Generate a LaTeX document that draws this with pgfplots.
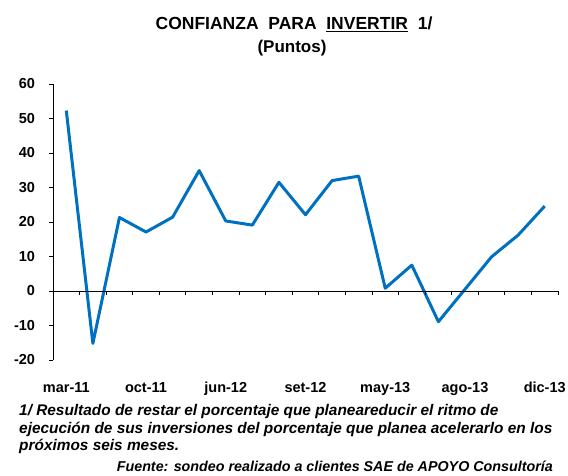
\documentclass[border=0pt]{standalone}
\usepackage{fontspec}
\setmainfont{Liberation Sans}
\usepackage{pgfplots}
\pgfplotsset{compat=1.18}
\definecolor{lineblue}{RGB}{0,112,192}
\begin{document}
\begin{tikzpicture}[x=1pt,y=1pt]
\useasboundingbox (0pt,0pt) rectangle (568pt,476pt);
\begin{axis}[
  at={(53pt,116pt)}, anchor=south west,
  scale only axis, width=505pt, height=276pt,
  xmin=-0.5, xmax=18.5, ymin=-20, ymax=60,
  axis x line=bottom, axis y line=left,
  axis line style={-, line width=0.8pt},
  x axis line style={draw=none},
  xtick={0,3,...,18},
  xticklabels={mar-11,oct-11,jun-12,set-12,may-13,ago-13,dic-13},
  major x tick style={draw=none},
  ytick={-20,-10,...,60},
  yticklabels={-20,-10,0,10,20,30,40,50,60},
  tick align=outside,
  major tick length=3.5pt,
  y tick style={line width=0.8pt, black},
  ticklabel style={font=\fontsize{14.5}{16}\selectfont\bfseries},
  yticklabel style={xshift=-11pt},
  xticklabel style={yshift=-15pt},
  clip=false,
]
\addplot[lineblue, line width=3pt, line join=round] coordinates {
(0,52.3) (1,-15.2) (2,21.3) (3,17.1) (4,21.4) (5,34.9) (6,20.3) (7,19.1)
(8,31.5) (9,22.1) (10,32.0) (11,33.3) (12,0.8) (13,7.5) (14,-8.9)
(15,0.5) (16,9.9) (17,16.2) (18,24.6)
};
\end{axis}
\begin{axis}[
  at={(53pt,116pt)}, anchor=south west,
  scale only axis, width=505pt, height=276pt,
  xmin=-0.5, xmax=18.5, ymin=-20, ymax=60,
  axis x line=middle, axis y line=none,
  axis line style={-, line width=0.8pt},
  xtick={-0.5,0.5,...,18.5},
  xticklabels={},
  ytick=\empty,
  x tick style={line width=0.8pt, black},
  tick align=outside,
  major tick length=4pt,
]
\end{axis}
\node[anchor=base, font=\fontsize{17.5}{20}\selectfont\bfseries] at (294pt,446pt) {CONFIANZA\ \ PARA\ \ \underline{INVERTIR}\ \ 1/};
\node[anchor=base, font=\fontsize{17}{20}\selectfont\bfseries] at (292pt,423pt) {(Puntos)};
\begin{scope}[every node/.style={anchor=base west, inner sep=0pt, font=\fontsize{15.4}{17}\selectfont\bfseries\itshape}]
\node at (19pt,60pt) {1/ Resultado de restar el porcentaje que planeareducir el ritmo de};
\node at (19pt,42pt) {ejecución de sus inversiones del porcentaje que planea acelerarlo en los};
\node at (19pt,25pt) {próximos seis meses.};
\end{scope}
\node[anchor=base east, inner sep=0pt, font=\fontsize{14.3}{16}\selectfont\bfseries\itshape] at (553pt,4pt) {Fuente: sondeo realizado a clientes SAE de APOYO Consultoría};
\end{tikzpicture}
\end{document}
